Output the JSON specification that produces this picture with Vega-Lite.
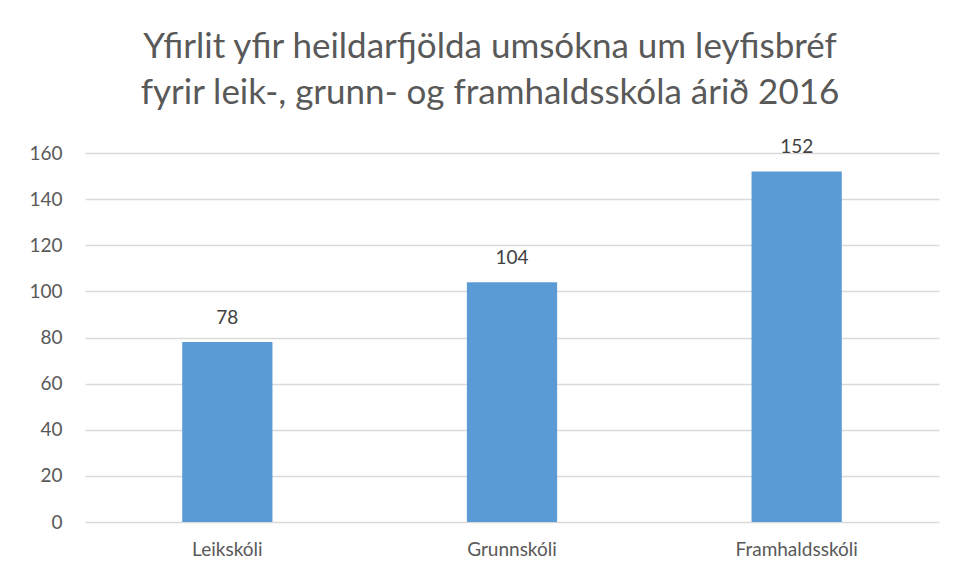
{
  "$schema": "https://vega.github.io/schema/vega-lite/v6.json",
  "autosize": "none",
  "width": 854,
  "height": 369,
  "padding": {"left": 85, "top": 153, "right": 17, "bottom": 57},
  "background": "white",
  "title": {
    "text": ["Yfirlit yfir heildarfjölda umsókna um leyfisbréf", "fyrir leik-, grunn- og framhaldsskóla árið 2016"],
    "font": "Lato",
    "fontSize": 35,
    "fontWeight": "normal",
    "color": "#595959",
    "lineHeight": 46,
    "anchor": "middle",
    "dx": -22,
    "offset": 27
  },
  "data": {
    "values": [
      {"skoli": "Leikskóli", "fjoldi": 78},
      {"skoli": "Grunnskóli", "fjoldi": 104},
      {"skoli": "Framhaldsskóli", "fjoldi": 152}
    ]
  },
  "encoding": {
    "x": {
      "field": "skoli",
      "type": "nominal",
      "sort": null,
      "scale": {"paddingInner": 0.683, "paddingOuter": 0.3415},
      "axis": {
        "title": null,
        "labelAngle": 0,
        "labelFont": "Lato",
        "labelFontSize": 19,
        "labelColor": "#595959",
        "labelPadding": 18,
        "ticks": false,
        "domain": false,
        "grid": false
      }
    },
    "y": {
      "field": "fjoldi",
      "type": "quantitative",
      "scale": {"domain": [0, 160]},
      "axis": {
        "title": null,
        "values": [0, 20, 40, 60, 80, 100, 120, 140, 160],
        "labelFont": "Lato",
        "labelFontSize": 19,
        "labelColor": "#595959",
        "labelPadding": 23,
        "ticks": false,
        "domain": false,
        "gridColor": "#d9d9d9",
        "gridWidth": 1.3
      }
    }
  },
  "layer": [
    {"mark": {"type": "bar", "color": "#5b9bd5"}},
    {
      "mark": {"type": "text", "baseline": "bottom", "dy": -14, "font": "Lato", "fontSize": 19, "color": "#404040"},
      "encoding": {"text": {"field": "fjoldi", "type": "quantitative"}}
    }
  ],
  "config": {"view": {"stroke": null}}
}
